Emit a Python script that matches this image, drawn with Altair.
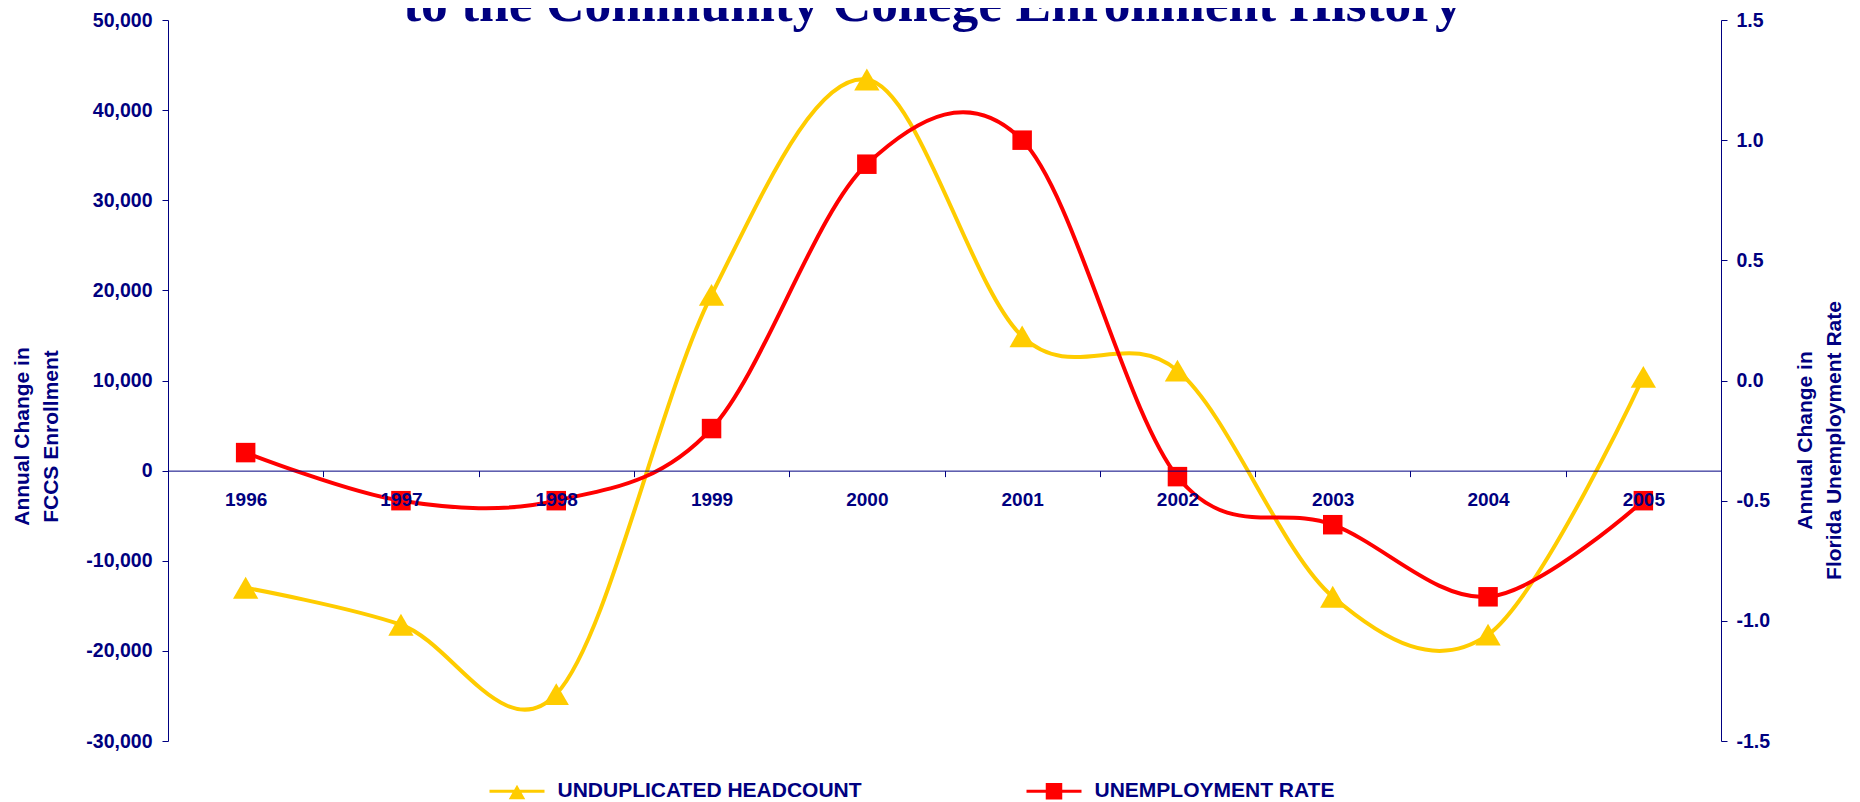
import altair as alt
import pandas as pd

# ---- data ----
years = ["1996", "1997", "1998", "1999", "2000", "2001", "2002", "2003", "2004", "2005"]
headcount = [-13000, -17100, -24800, 19500, 43400, 14900, 11100, -14000, -18200, 10400]
unemployment = [-0.3, -0.5, -0.5, -0.2, 0.9, 1.0, -0.4, -0.6, -0.9, -0.5]
series_names = ["UNDUPLICATED HEADCOUNT", "UNEMPLOYMENT RATE"]
series_colors = ["#FFCC00", "#FF0000"]
left_ticks = [-30000, -20000, -10000, 0, 10000, 20000, 30000, 40000, 50000]
right_ticks = [-1.5, -1.0, -0.5, 0.0, 0.5, 1.0, 1.5]

NAVY = "#000080"
SANS = "Liberation Sans, Arial, sans-serif"
SERIF = "Liberation Serif, Times New Roman, serif"
W, H = 1553, 721
YMIN, YMAX = -30000, 50000
RMIN, RMAX = -1.5, 1.5

df = pd.DataFrame({"year": years, "hc": headcount, "ur": unemployment})

xscale = alt.Scale(type="band", paddingInner=0, paddingOuter=0)
x_axis = alt.Axis(
    orient="bottom", offset=-H * (0 - YMIN) / (YMAX - YMIN), tickBand="extent",
    labelAngle=0, title=None, domainColor=NAVY, tickColor=NAVY, tickSize=6,
    labelPadding=14, labelFont=SANS, labelFontSize=19, labelFontWeight="bold",
    labelColor=NAVY, grid=False, zindex=1,
)
x_enc = alt.X("year:O", scale=xscale, axis=x_axis)

lscale = alt.Scale(domain=[YMIN, YMAX], nice=False, zero=False)
rscale = alt.Scale(domain=[RMIN, RMAX], nice=False, zero=False)

left_axis = alt.Axis(
    values=left_ticks, labelExpr="replace(format(datum.value, ','), '\u2212', '-')", grid=False,
    labelFont=SANS, labelFontSize=19.5, labelFontWeight="bold", labelColor=NAVY,
    domainColor=NAVY, tickColor=NAVY, tickSize=6, labelPadding=10, labelFlush=False,
    title=["Annual Change in", "FCCS Enrollment"], titleFont=SANS, titleFontSize=21,
    titleFontWeight="bold", titleColor=NAVY, titleAngle=270, titleX=-146, titleY=416,
    titleAlign="center", titleBaseline="middle", titleLineHeight=29,
)
right_axis = alt.Axis(
    orient="right", values=right_ticks,
    labelExpr="replace(format(datum.value, '.1f'), '\u2212', '-')", grid=False,
    labelFont=SANS, labelFontSize=19.5, labelFontWeight="bold", labelColor=NAVY,
    domainColor=NAVY, tickColor=NAVY, tickSize=6, labelPadding=9, labelFlush=False,
    title=["Annual Change in", "Florida Unemployment Rate"], titleFont=SANS,
    titleFontSize=21, titleFontWeight="bold", titleColor=NAVY, titleAngle=270,
    titleX=84, titleY=420, titleAlign="center", titleBaseline="middle",
    titleLineHeight=29,
)
y_left = alt.Y("hc:Q", scale=lscale, axis=left_axis)
y_right = alt.Y("ur:Q", scale=rscale, axis=right_axis)

base = alt.Chart(df)

hc_line = base.mark_line(color=series_colors[0], strokeWidth=4, interpolate="cardinal").encode(
    x=x_enc, y=y_left
)
hc_pts = base.mark_point(shape="triangle-up", filled=True, size=640, color=series_colors[0],
                         opacity=1, strokeWidth=0).encode(x=x_enc, y=y_left)
ur_line = base.mark_line(color=series_colors[1], strokeWidth=4, interpolate="cardinal").encode(
    x=x_enc, y=y_right
)
ur_pts = base.mark_point(shape="square", filled=True, size=380, color=series_colors[1],
                         opacity=1, strokeWidth=0).encode(x=x_enc, y=y_right)

# legend symbols: line with marker (custom paths in the -1..1 box)
tri_sym = "M-1,-0.055H1V0.055H-1Z M-0.3,0.29L0,-0.24L0.3,0.29Z"
sq_sym = "M-1,-0.055H1V0.055H-1Z M-0.3,-0.3H0.3V0.3H-0.3Z"
legend_def = alt.Legend(
    title=None, orient="none", legendX=321.5, legendY=743.5, direction="horizontal",
    columns=2, columnPadding=164, padding=0, symbolSize=3025, symbolStrokeWidth=0,
    symbolOpacity=1, labelOffset=13, labelLimit=1000, labelFont=SANS, labelFontSize=21,
    labelFontWeight="bold", labelColor=NAVY,
)
leg = base.mark_point(filled=True, opacity=1).encode(
    color=alt.Color("s:N", scale=alt.Scale(domain=series_names, range=series_colors), legend=legend_def),
    shape=alt.Shape("s:N", scale=alt.Scale(domain=series_names, range=[tri_sym, sq_sym]), legend=legend_def),
).transform_calculate(s="'none'").transform_filter("false")

chart = alt.layer(
    alt.layer(hc_line, hc_pts),
    alt.layer(ur_line, ur_pts),
    leg,
).resolve_scale(y="independent").properties(
    width=W, height=H,
    autosize=alt.AutoSizeParams(type="none"),
    padding={"left": 160, "top": 12, "right": 130, "bottom": 62},
    title=alt.Title(
        text="to the Community College Enrollment History", font=SERIF, fontSize=53.5,
        fontWeight="bold", color=NAVY, anchor="middle", baseline="alphabetic",
        offset=0, dy=64, dx=-12,
    ),
).configure_view(stroke="transparent")

chart.save("out.html", embed_options={"renderer": "svg", "actions": False})
